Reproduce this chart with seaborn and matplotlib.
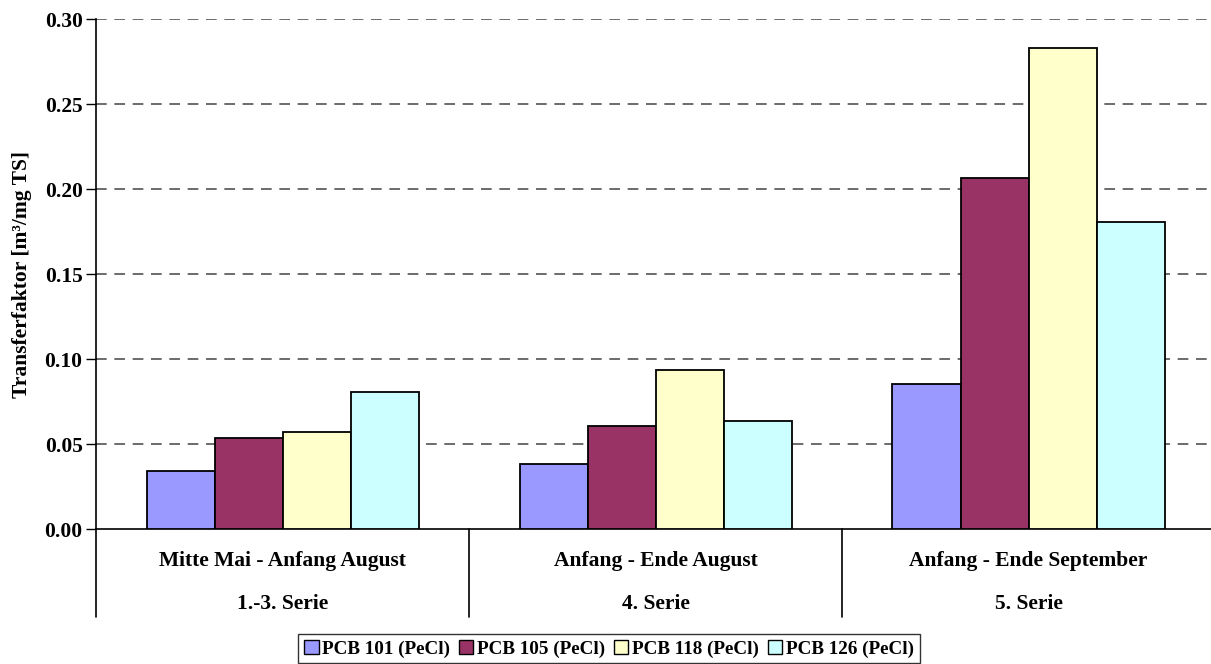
import matplotlib
matplotlib.use("Agg")
import matplotlib.pyplot as plt
import matplotlib.transforms as mtransforms
from matplotlib.patches import Patch
import pandas as pd
import seaborn as sns

# Sampling periods (two-line category labels) and series
periods = ["Mitte Mai - Anfang August", "Anfang - Ende August", "Anfang - Ende September"]
series_labels = ["1.-3. Serie", "4. Serie", "5. Serie"]
compounds = ["PCB 101 (PeCl)", "PCB 105 (PeCl)", "PCB 118 (PeCl)", "PCB 126 (PeCl)"]

pcb101 = [0.034, 0.0386, 0.0855]
pcb105 = [0.0539, 0.0608, 0.2066]
pcb118 = [0.057, 0.0937, 0.2829]
pcb126 = [0.0808, 0.0639, 0.181]

yticks = [0.00, 0.05, 0.10, 0.15, 0.20, 0.25, 0.30]
colors = ["#9999FF", "#993366", "#FFFFCC", "#CCFFFF"]

rows = []
for name, vals in zip(compounds, [pcb101, pcb105, pcb118, pcb126]):
    for p, v in zip(periods, vals):
        rows.append({"Zeitraum": p, "Kongener": name, "Wert": v})
df = pd.DataFrame(rows)

sns.set_theme(style="white")
plt.rcParams["font.family"] = ["Liberation Serif", "DejaVu Serif"]
plt.rcParams["font.weight"] = "bold"
for key in ["text.color", "axes.labelcolor", "xtick.color", "ytick.color"]:
    plt.rcParams[key] = "black"

FS = 15.5
W, H = 1211, 664
fig = plt.figure(figsize=(W / 100, H / 100), dpi=100)
left, right, top, bottom = 96.5, 1215, 19.3, 529.3
ax = fig.add_axes([left / W, (H - bottom) / H, (right - left) / W, (bottom - top) / H])

sns.barplot(data=df, x="Zeitraum", y="Wert", hue="Kongener", order=periods,
            hue_order=compounds, palette=colors, width=0.73, edgecolor="black",
            linewidth=1.3, saturation=1, ax=ax, legend=False, zorder=3)

ax.set_xlim(-0.5, len(periods) - 0.5)
ax.set_ylim(0, 0.30)
ax.set_yticks(yticks)
ax.set_yticklabels([f"{t:.2f}" for t in yticks], fontsize=FS, fontweight="bold")
ax.tick_params(axis="y", which="major", left=True, length=7, width=1, color="black", pad=3)
ax.set_xticks([])
ax.set_xlabel("")
ax.set_ylabel("Transferfaktor [m³/mg TS]", fontsize=FS, fontweight="bold", labelpad=9)

# Dashed horizontal grid
for t in yticks[1:]:
    ax.axhline(t, color="#444444", linestyle=(0, (7, 5)), linewidth=1.1, zorder=0)

for side in ["top", "right"]:
    ax.spines[side].set_visible(False)
ax.spines["left"].set_color("black")
ax.spines["left"].set_linewidth(1.2)
ax.spines["bottom"].set_color("black")
ax.spines["bottom"].set_linewidth(1.2)

# Two-level category axis with separators
trans = mtransforms.blended_transform_factory(ax.transData, ax.transAxes)
sep_depth = -(617 - bottom) / (bottom - top)
for b in range(len(periods) + 1):
    ax.plot([b - 0.5, b - 0.5], [0, sep_depth], transform=trans, color="black",
            linewidth=1.2, clip_on=False)
row1 = -(561 - bottom) / (bottom - top)
row2 = -(604 - bottom) / (bottom - top)
for i, (p, s) in enumerate(zip(periods, series_labels)):
    ax.text(i, row1, p, transform=trans, ha="center", va="center",
            fontsize=FS, fontweight="bold")
    ax.text(i, row2, s, transform=trans, ha="center", va="center",
            fontsize=FS, fontweight="bold")

handles = [Patch(facecolor=c, edgecolor="black", linewidth=1.0, label=n)
           for c, n in zip(colors, compounds)]
leg = fig.legend(handles=handles, loc="upper center", bbox_to_anchor=(609 / W, 1 - 634 / H),
                 ncol=4, frameon=True, fancybox=False,
                 prop={"weight": "bold", "size": 13.8}, handlelength=0.75, handleheight=0.75,
                 handletextpad=0.2, columnspacing=0.45, borderpad=0.3, borderaxespad=0)
leg.get_frame().set_edgecolor("black")
leg.get_frame().set_linewidth(1.0)

fig.savefig("out.png", dpi=100)
